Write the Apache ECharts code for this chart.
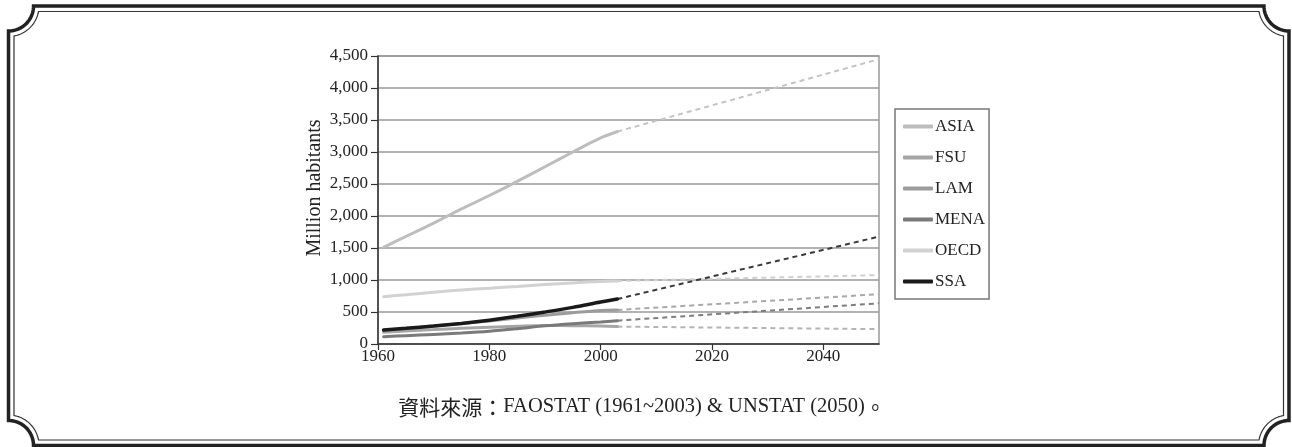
<!DOCTYPE html>
<html>
<head>
<meta charset="utf-8">
<script src="https://cdn.jsdelivr.net/npm/echarts@6/dist/echarts.min.js"></script>
<style>
html,body{margin:0;padding:0;background:#fff;}
#chart{width:1292px;height:447px;}
</style>
</head>
<body>
<div id="chart"></div>
<script>
// ---- data ----
const years = [1961, 1965, 1970, 1975, 1980, 1985, 1990, 1995, 2000, 2003];
const projYears = [2003, 2050];
const seriesNames = ['ASIA', 'FSU', 'LAM', 'MENA', 'OECD', 'SSA'];
const asia = [1510, 1680, 1890, 2110, 2320, 2540, 2770, 3000, 3220, 3320];
const fsu  = [185, 205, 225, 245, 262, 278, 290, 286, 280, 272];
const lam  = [212, 240, 280, 320, 360, 405, 450, 490, 525, 532];
const mena = [115, 130, 150, 172, 200, 240, 285, 318, 345, 365];
const oecd = [740, 770, 810, 845, 872, 900, 930, 955, 978, 985];
const ssa  = [220, 245, 280, 322, 372, 432, 500, 572, 655, 702];
const asiaProj = [3320, 4450];
const fsuProj  = [272, 232];
const lamProj  = [532, 778];
const menaProj = [365, 636];
const oecdProj = [985, 1076];
const ssaProj  = [702, 1678];
const yTicks = [0, 500, 1000, 1500, 2000, 2500, 3000, 3500, 4000, 4500];
const yAxisTitle = 'Million habitants';
const sourcePrefix = '資料來源：';
const sourceBody = 'FAOSTAT (1961~2003) & UNSTAT (2050)';
const sourceEnd = '。';

const hist = {ASIA: asia, FSU: fsu, LAM: lam, MENA: mena, OECD: oecd, SSA: ssa};
const proj = {ASIA: asiaProj, FSU: fsuProj, LAM: lamProj, MENA: menaProj, OECD: oecdProj, SSA: ssaProj};

const colors = {ASIA: '#bdbdbd', FSU: '#a6a6a6', LAM: '#9c9c9c', MENA: '#7a7a7a', OECD: '#d2d2d2', SSA: '#1a1a1a'};
const dashColors = {ASIA: '#c4c4c4', FSU: '#b4b4b4', LAM: '#a8a8a8', MENA: '#7e7e7e', OECD: '#cfcfcf', SSA: '#3a3a3a'};

const serif = '"Liberation Serif", "Noto Sans CJK TC", serif';
const cjk = '"Noto Sans CJK TC", "Liberation Serif", serif';

const series = [];
seriesNames.forEach(function (n, i) {
  series.push({
    name: n, type: 'line', showSymbol: false, symbol: 'none', smooth: 0.3,
    data: years.map(function (y, k) { return [y, hist[n][k]]; }),
    lineStyle: {color: colors[n], width: n === 'SSA' ? 3.5 : 3, cap: 'round'},
    itemStyle: {color: colors[n]},
    z: 3 + i, animation: false
  });
  series.push({
    name: n + ' proj', type: 'line', showSymbol: false, symbol: 'none',
    data: projYears.map(function (y, k) { return [y, proj[n][k]]; }),
    lineStyle: {color: dashColors[n], width: 2, type: [5, 4]},
    itemStyle: {color: dashColors[n]},
    z: 2, animation: false
  });
});

// decorative frame with concave (scalloped) corners, built as one closed polygon outline
function frame(x0, y0, x1, y1, r, off, color, lw) {
  const R = r + off;
  const pts = [];
  const corner = function (cx, cy, a0, a1) {
    const N = 24;
    for (let k = 0; k <= N; k++) {
      const t = a0 + (a1 - a0) * k / N;
      pts.push([cx + R * Math.cos(t), cy + R * Math.sin(t)]);
    }
  };
  const P = Math.PI;
  const a = Math.asin(off / R);
  corner(x0, y0, P / 2 - a, a);
  corner(x1, y0, P - a, P / 2 + a);
  corner(x1, y1, 3 * P / 2 - a, P + a);
  corner(x0, y1, 2 * P - a, 3 * P / 2 + a);
  return {
    type: 'polygon', silent: true, z: 10,
    shape: {points: pts},
    style: {stroke: color, lineWidth: lw, fill: null}
  };
}

const graphics = [
  frame(8.5, 6, 1289, 445.5, 25, 0.01, '#222', 3.5),
  frame(8.5, 6, 1289, 445.5, 25, 5.5, '#333', 1.2),
  {
    type: 'text', silent: true, z: 10,
    x: 315, y: 188, rotation: Math.PI / 2,
    style: {text: yAxisTitle, font: '20px ' + serif, fill: '#222', align: 'center', verticalAlign: 'middle'}
  },
  {
    type: 'text', silent: true, z: 10,
    x: 642, y: 407,
    style: {
      text: '{c|' + sourcePrefix + '}{l|' + sourceBody + '}{c|' + sourceEnd + '}',
      align: 'center', verticalAlign: 'middle', fill: '#222',
      rich: {
        c: {fontFamily: cjk, fontSize: 21, fill: '#222', color: '#222'},
        l: {fontFamily: serif, fontSize: 20.5, fill: '#222', color: '#222'}
      }
    }
  }
];

const chart = echarts.init(document.getElementById('chart'), null, {renderer: 'canvas'});
chart.setOption({
  backgroundColor: '#fff',
  animation: false,
  grid: {left: 378, right: 413, top: 56, bottom: 103, show: true, borderColor: '#999', borderWidth: 1.5, backgroundColor: 'transparent'},
  legend: {
    data: seriesNames,
    orient: 'vertical',
    left: 895, top: 109,
    padding: [9, 4, 9, 8],
    itemGap: 14,
    itemWidth: 30, itemHeight: 4,
    icon: 'roundRect',
    borderColor: '#777', borderWidth: 1.5,
    textStyle: {fontFamily: serif, fontSize: 17, color: '#222', padding: [0, 0, 0, -3]},
    selectedMode: false
  },
  xAxis: {
    type: 'value', min: 1960, max: 2050, interval: 20,
    axisLine: {show: true, lineStyle: {color: '#333', width: 1.5}},
    axisTick: {show: true, length: 6, lineStyle: {color: '#333', width: 1.2}},
    axisLabel: {
      showMaxLabel: false, fontFamily: serif, fontSize: 17, color: '#222', margin: 4,
      formatter: function (v) { return String(v); }
    },
    splitLine: {show: false}
  },
  yAxis: {
    type: 'value', min: yTicks[0], max: yTicks[yTicks.length - 1], interval: 500,
    axisLine: {show: true, lineStyle: {color: '#333', width: 1.5}},
    axisTick: {show: true, length: 7, lineStyle: {color: '#333', width: 1.2}},
    axisLabel: {
      fontFamily: serif, fontSize: 17, color: '#222', margin: 10,
      formatter: function (v) { return v.toLocaleString('en-US'); }
    },
    splitLine: {show: true, lineStyle: {color: '#999', width: 1.5}}
  },
  series: series,
  graphic: graphics
});
</script>
</body>
</html>
